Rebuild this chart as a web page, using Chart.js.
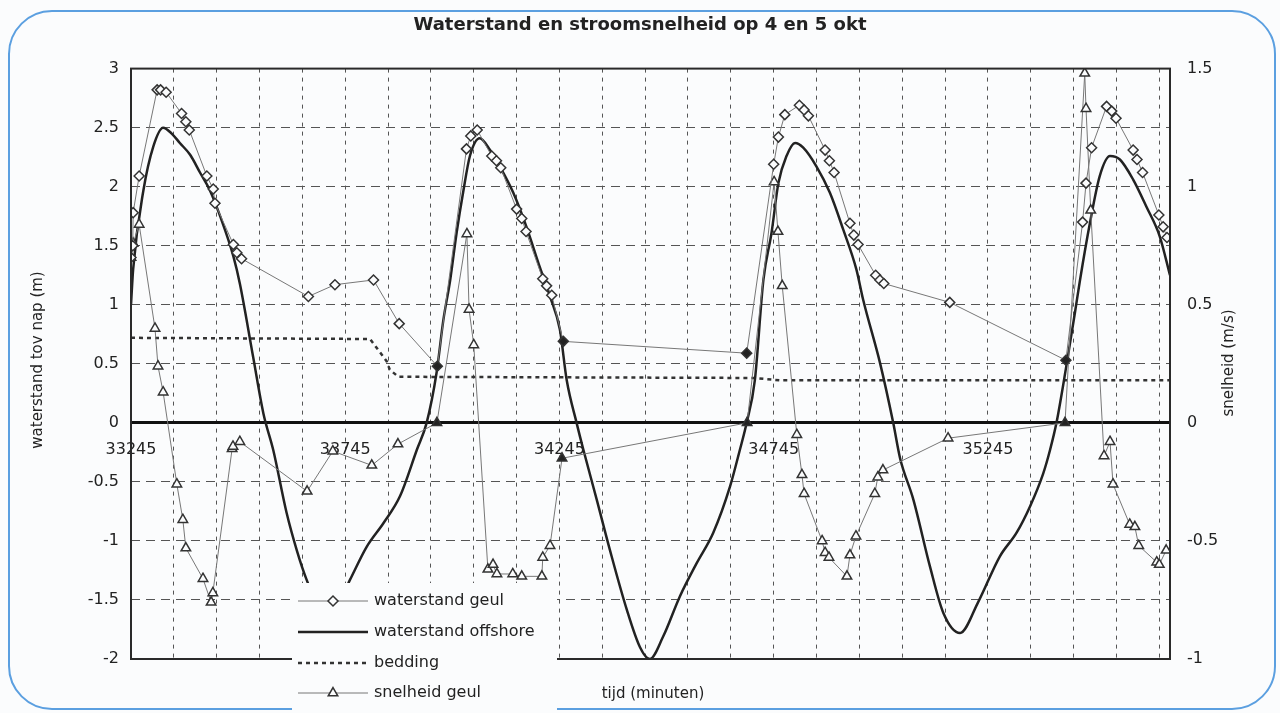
<!DOCTYPE html>
<html>
<head>
<meta charset="utf-8">
<script src="https://cdn.jsdelivr.net/npm/chart.js@4.4.1/dist/chart.umd.min.js"></script>
<style>
  html, body { margin: 0; padding: 0; background: #fbfcfd; }
  #wrap { position: relative; width: 1280px; height: 713px; overflow: hidden; }
  #frame { position: absolute; left: 8px; top: 10px; width: 1268px; height: 700px; box-sizing: border-box;
           border: 2px solid #5b9fe0; border-radius: 44px; }
  canvas { position: absolute; left: 0; top: 0; }
</style>
</head>
<body>
<div id="wrap">
  <div id="frame"></div>
  <canvas id="chart" width="1280" height="713"></canvas>
</div>
<script>
// tijd (minuten) and waterstand geul (m)
const geulT = [33245, 33249, 33250, 33264, 33306, 33314, 33327, 33363, 33373, 33381, 33422, 33437, 33441,
  33484, 33492, 33503, 33659, 33721, 33811, 33871, 33960, 34028, 34038, 34053, 34087, 34098, 34108,
  34145, 34157, 34167, 34206, 34215, 34227, 34254, 34682, 34745, 34756, 34771, 34805, 34816, 34826,
  34865, 34875, 34886, 34923, 34932, 34942, 34983, 34993, 35002, 35156, 35427, 35466, 35474, 35487,
  35522, 35534, 35544, 35584, 35593, 35606, 35644, 35654, 35663];
const geulV = [1.40, 1.50, 1.78, 2.09, 2.82, 2.82, 2.80, 2.62, 2.55, 2.48, 2.09, 1.98, 1.86,
  1.51, 1.44, 1.39, 1.07, 1.17, 1.21, 0.84, 0.48, 2.32, 2.43, 2.48, 2.26, 2.22, 2.16,
  1.81, 1.73, 1.62, 1.22, 1.16, 1.08, 0.69, 0.59, 2.19, 2.42, 2.61, 2.69, 2.65, 2.60,
  2.31, 2.22, 2.12, 1.69, 1.59, 1.51, 1.25, 1.21, 1.18, 1.02, 0.53, 1.70, 2.03, 2.33,
  2.68, 2.64, 2.58, 2.31, 2.23, 2.12, 1.76, 1.66, 1.57];
const geulFilled = [33960, 34254, 34682, 35427];

// waterstand offshore (m)
const offT = [33245, 33250, 33274, 33297, 33320, 33340, 33359, 33383, 33406, 33429, 33453, 33484, 33499,
  33530, 33554, 33577, 33608, 33632, 33655, 33690, 33715, 33756, 33795, 33834, 33873, 33912, 33935,
  33958, 33974, 33990, 34005, 34021, 34036, 34059, 34083, 34106, 34137, 34168, 34199, 34223, 34246,
  34262, 34285, 34301, 34332, 34363, 34402, 34433, 34456, 34487, 34526, 34565, 34604, 34643, 34666,
  34682, 34701, 34721, 34740, 34756, 34775, 34795, 34814, 34845, 34876, 34907, 34938, 34954, 34993,
  35024, 35040, 35071, 35110, 35141, 35180, 35222, 35273, 35312, 35343, 35374, 35390, 35405, 35428,
  35448, 35460, 35483, 35506, 35530, 35553, 35584, 35615, 35646, 35670];
const offV = [1.00, 1.30, 1.97, 2.34, 2.50, 2.45, 2.37, 2.27, 2.12, 1.97, 1.75, 1.41, 1.18,
  0.56, 0.08, -0.23, -0.76, -1.08, -1.33, -1.60, -1.62, -1.33, -1.05, -0.85, -0.62, -0.23, 0.00,
  0.42, 0.87, 1.21, 1.61, 1.97, 2.26, 2.41, 2.31, 2.17, 1.95, 1.66, 1.32, 1.07, 0.79,
  0.36, 0.00, -0.23, -0.65, -1.08, -1.58, -1.90, -2.00, -1.81, -1.47, -1.19, -0.93, -0.54, -0.23,
  0.00, 0.36, 1.21, 1.61, 2.03, 2.26, 2.37, 2.33, 2.17, 1.95, 1.64, 1.30, 1.04, 0.51,
  0.00, -0.30, -0.65, -1.22, -1.61, -1.78, -1.52, -1.13, -0.93, -0.71, -0.43, -0.23, 0.00, 0.48,
  0.93, 1.21, 1.69, 2.09, 2.26, 2.23, 2.06, 1.83, 1.58, 1.25];

// bedding (m)
const bedT = [33245, 33803, 33842, 33849, 33869, 34700, 34760, 35670];
const bedV = [0.72, 0.71, 0.52, 0.45, 0.39, 0.38, 0.36, 0.36];

// snelheid geul (m/s)
const snelT = [33245, 33250, 33264, 33301, 33308, 33320, 33352, 33366, 33373, 33413, 33432, 33436,
  33481, 33483, 33499, 33656, 33716, 33807, 33868, 33959, 34029, 34034, 34045, 34078, 34090, 34099,
  34136, 34157, 34204, 34206, 34223, 34251, 34683, 34746, 34755, 34765, 34799, 34811, 34816, 34858,
  34865, 34874, 34916, 34923, 34937, 34981, 34988, 35000, 35152, 35425, 35471, 35474, 35485, 35516,
  35530, 35537, 35576, 35588, 35597, 35639, 35645, 35661];
const snelV = [0.70, 0.76, 0.84, 0.40, 0.24, 0.13, -0.26, -0.41, -0.53, -0.66, -0.76, -0.72,
  -0.11, -0.10, -0.08, -0.29, -0.12, -0.18, -0.09, 0.00, 0.80, 0.48, 0.33, -0.62, -0.60, -0.64,
  -0.64, -0.65, -0.65, -0.57, -0.52, -0.15, 0.00, 1.02, 0.81, 0.58, -0.05, -0.22, -0.30, -0.50,
  -0.55, -0.57, -0.65, -0.56, -0.48, -0.30, -0.23, -0.20, -0.065, 0.00, 1.48, 1.33, 0.90, -0.14,
  -0.08, -0.26, -0.43, -0.44, -0.52, -0.59, -0.60, -0.54];
const snelFilled = [33959, 34251, 34683, 35425];

const xTickLabels = [33245, 33745, 34245, 34745, 35245];
const xGridStart = 33245, xGridStep = 100, xMin = 33245, xMax = 35670;

const pts = (ts, vs) => ts.map((t, i) => ({ x: t, y: vs[i] }));

Chart.defaults.font.family = 'DejaVu Sans';
Chart.defaults.color = '#222';

const frameAndLegend = {
  id: 'frameAndLegend',
  afterDraw(chart) {
    const ctx = chart.ctx;
    const a = chart.chartArea;
    ctx.save();
    // plot frame
    ctx.strokeStyle = '#2a2a2a';
    ctx.lineWidth = 2;
    ctx.strokeRect(a.left, a.top, a.right - a.left, a.bottom - a.top);

    // legend box over the lower part of the plot
    const bx = 292, by = 583, bw = 265, bh = 130;
    ctx.fillStyle = '#fbfcfd';
    ctx.fillRect(bx, by, bw, bh);
    const rows = [601, 632, 663, 693];
    chart.data.datasets.forEach((ds, i) => {
      const y = rows[i];
      ctx.save();
      ctx.strokeStyle = ds.borderColor;
      ctx.lineWidth = ds.borderWidth;
      ctx.setLineDash(ds.borderDash || []);
      ctx.beginPath();
      ctx.moveTo(298, y);
      ctx.lineTo(368, y);
      ctx.stroke();
      ctx.restore();
      if (ds.pointStyle && ds.pointRadius > 0) {
        ctx.fillStyle = '#fbfcfd';
        ctx.strokeStyle = '#333';
        ctx.lineWidth = 1.5;
        Chart.helpers.drawPoint(ctx, { pointStyle: ds.pointStyle, radius: ds.pointRadius, borderWidth: 1.5, rotation: 0 }, 333, y);
      }
      ctx.fillStyle = '#222';
      ctx.font = '16px "DejaVu Sans"';
      ctx.textAlign = 'left';
      ctx.textBaseline = 'middle';
      ctx.fillText(ds.label, 374, y);
    });

    // axis titles
    ctx.fillStyle = '#222';
    ctx.font = '15px "DejaVu Sans"';
    ctx.textAlign = 'center';
    ctx.textBaseline = 'middle';
    ctx.fillText('tijd (minuten)', 653, 694);
    ctx.save();
    ctx.translate(38, 360);
    ctx.rotate(-Math.PI / 2);
    ctx.fillText('waterstand tov nap (m)', 0, 0);
    ctx.restore();
    ctx.save();
    ctx.translate(1229, 363);
    ctx.rotate(-Math.PI / 2);
    ctx.fillText('snelheid (m/s)', 0, 0);
    ctx.restore();
    ctx.restore();
  }
};

new Chart(document.getElementById('chart'), {
  type: 'line',
  data: {
    datasets: [
      {
        label: 'waterstand geul',
        data: pts(geulT, geulV),
        yAxisID: 'y',
        borderColor: '#777',
        borderWidth: 1,
        pointStyle: 'rectRot',
        pointRadius: 5,
        pointBorderColor: '#333',
        pointBorderWidth: 1.5,
        pointBackgroundColor: ctx => geulFilled.includes(ctx.raw && ctx.raw.x) ? '#222' : '#fbfcfd',
        tension: 0,
        order: 1
      },
      {
        label: 'waterstand offshore',
        data: pts(offT, offV),
        yAxisID: 'y',
        borderColor: '#222',
        borderWidth: 2.5,
        pointRadius: 0,
        pointStyle: false,
        cubicInterpolationMode: 'monotone',
        order: 3
      },
      {
        label: 'bedding',
        data: pts(bedT, bedV),
        yAxisID: 'y',
        borderColor: '#333',
        borderWidth: 2.5,
        borderDash: [4, 4],
        pointRadius: 0,
        pointStyle: false,
        tension: 0,
        order: 4
      },
      {
        label: 'snelheid geul',
        data: pts(snelT, snelV),
        yAxisID: 'y2',
        borderColor: '#777',
        borderWidth: 1,
        pointStyle: 'triangle',
        pointRadius: 5.5,
        pointBorderColor: '#333',
        pointBorderWidth: 1.5,
        pointBackgroundColor: ctx => snelFilled.includes(ctx.raw && ctx.raw.x) ? '#222' : '#fbfcfd',
        tension: 0,
        order: 2
      }
    ]
  },
  options: {
    responsive: false,
    animation: false,
    events: [],
    layout: { padding: { left: 0, right: 0, top: 0, bottom: 54 } },
    plugins: {
      legend: { display: false },
      tooltip: { enabled: false },
      title: {
        display: true,
        text: 'Waterstand en stroomsnelheid op 4 en 5 okt',
        color: '#222',
        font: { size: 18, weight: 'bold' },
        padding: { top: 15, bottom: 32 }
      }
    },
    scales: {
      x: {
        type: 'linear',
        position: { y: 0 },
        min: xMin,
        max: xMax,
        afterBuildTicks: scale => {
          const ticks = [];
          for (let v = xGridStart; v <= xMax; v += xGridStep) ticks.push({ value: v });
          scale.ticks = ticks;
        },
        ticks: {
          autoSkip: false,
          maxRotation: 0,
          padding: 17,
          font: { size: 16 },
          color: '#222',
          callback: v => xTickLabels.includes(v) ? String(v) : ''
        },
        grid: { color: '#555', lineWidth: 1, drawTicks: false },
        border: { display: true, color: '#111', width: 3, dash: [4, 5] }
      },
      y: {
        position: 'left',
        min: -2,
        max: 3,
        afterFit: s => { s.width = 131; },
        ticks: { stepSize: 0.5, padding: 12, font: { size: 16 }, color: '#222', callback: v => String(v) },
        grid: { color: '#555', lineWidth: 1, drawTicks: false },
        border: { display: false, dash: [9, 6] }
      },
      y2: {
        position: 'right',
        min: -1,
        max: 1.5,
        afterFit: s => { s.width = 110; },
        ticks: { stepSize: 0.5, padding: 17, font: { size: 16 }, color: '#222', callback: v => String(v) },
        grid: { display: false, drawTicks: false },
        border: { display: false }
      }
    }
  },
  plugins: [frameAndLegend]
});
</script>
</body>
</html>
